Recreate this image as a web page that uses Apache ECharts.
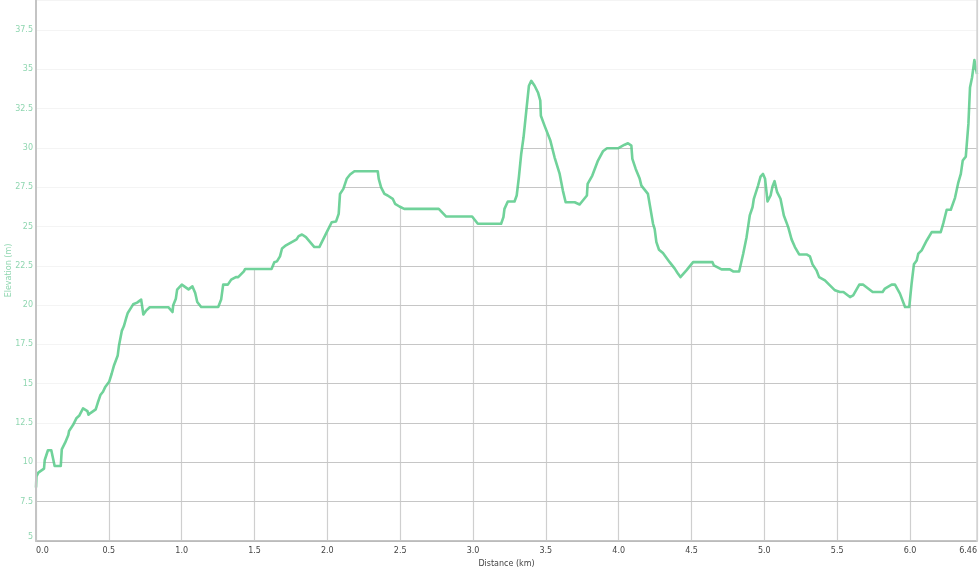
<!DOCTYPE html>
<html>
<head>
<meta charset="utf-8">
<script src="https://cdn.jsdelivr.net/npm/echarts@6/dist/echarts.min.js"></script>
<style>
html,body{margin:0;padding:0;background:#fff;}
#chart{width:980px;height:570px;}
</style>
</head>
<body>
<div id="chart"></div>
<script>
const distanceKm = [
  0.000,0.003,0.016,0.055,0.060,0.082,0.105,0.128,0.170,0.177,0.200,0.222,0.227,0.254,0.277,0.296,
  0.323,0.353,0.360,0.376,0.410,0.424,0.442,0.460,0.474,0.502,0.520,0.536,0.561,0.570,0.589,0.603,
  0.620,0.630,0.653,0.667,0.694,0.722,0.737,0.754,0.781,0.910,0.937,0.942,0.960,0.969,1.001,1.047,
  1.060,1.074,1.093,1.107,1.134,1.251,1.271,1.285,1.317,1.340,1.372,1.388,1.427,1.436,1.617,1.636,
  1.654,1.675,1.689,1.716,1.768,1.789,1.803,1.826,1.853,1.911,1.945,1.991,2.030,2.060,2.078,2.087,
  2.110,2.133,2.156,2.186,2.346,2.353,2.369,2.392,2.414,2.449,2.465,2.495,2.528,2.765,2.816,2.994,
  3.033,3.193,3.209,3.216,3.239,3.285,3.300,3.315,3.331,3.347,3.366,3.384,3.400,3.423,3.446,3.462,
  3.466,3.491,3.531,3.560,3.595,3.617,3.636,3.698,3.732,3.782,3.787,3.819,3.858,3.892,3.920,3.995,
  4.041,4.064,4.087,4.094,4.117,4.144,4.156,4.201,4.236,4.247,4.259,4.277,4.304,4.350,4.385,4.403,
  4.424,4.465,4.511,4.644,4.653,4.706,4.763,4.786,4.827,4.855,4.878,4.900,4.919,4.928,4.957,4.974,
  4.991,5.005,5.022,5.043,5.056,5.070,5.088,5.111,5.134,5.164,5.187,5.210,5.239,5.290,5.313,5.331,
  5.358,5.376,5.416,5.445,5.485,5.519,5.543,5.588,5.610,5.652,5.679,5.744,5.812,5.828,5.874,5.897,
  5.931,5.966,5.995,6.011,6.027,6.046,6.057,6.080,6.115,6.149,6.211,6.229,6.252,6.280,6.309,6.332,
  6.349,6.362,6.383,6.401,6.412,6.426,6.442,6.460
];
const elevationM = [
  8.4,9.1,9.35,9.6,10.15,10.77,10.77,9.77,9.77,10.83,11.25,11.74,12.0,12.37,12.8,12.96,
  13.43,13.26,13.03,13.15,13.37,13.79,14.28,14.49,14.77,15.12,15.65,16.18,16.8,17.45,18.36,18.65,
  19.2,19.5,19.84,20.05,20.16,20.35,19.4,19.63,19.86,19.86,19.56,19.99,20.41,20.98,21.3,21.0,
  21.0,21.19,20.77,20.2,19.88,19.88,20.35,21.3,21.3,21.62,21.78,21.78,22.14,22.3,22.3,22.72,
  22.78,23.1,23.6,23.8,24.07,24.18,24.39,24.49,24.32,23.69,23.69,24.54,25.27,25.32,25.8,27.07,
  27.39,28.03,28.3,28.51,28.51,28.03,27.49,27.07,26.97,26.76,26.44,26.27,26.12,26.12,25.63,25.63,
  25.17,25.17,25.59,26.12,26.59,26.59,26.97,28.13,29.61,30.67,32.36,33.95,34.26,33.95,33.52,33.0,
  32.04,31.41,30.46,29.4,28.34,27.28,26.54,26.54,26.4,26.97,27.71,28.24,29.19,29.78,29.97,29.97,
  30.2,30.29,30.14,29.3,28.66,28.05,27.6,27.07,25.17,24.85,24.0,23.52,23.31,22.73,22.32,22.06,
  21.78,22.21,22.73,22.73,22.53,22.27,22.27,22.14,22.14,23.27,24.32,25.7,26.22,26.76,27.6,28.17,
  28.34,28.03,26.59,26.97,27.54,27.88,27.18,26.76,25.7,24.96,24.18,23.69,23.22,23.22,23.1,22.59,
  22.21,21.78,21.57,21.3,20.94,20.83,20.83,20.51,20.62,21.3,21.3,20.83,20.83,21.05,21.3,21.3,
  20.73,19.88,19.88,21.36,22.59,22.84,23.27,23.48,24.11,24.64,24.64,25.21,26.06,26.06,26.82,27.81,
  28.34,29.19,29.44,31.52,33.84,34.47,35.58,34.7
];
const xMin = 0, xMax = 6.46, xStep = 0.5;
const yMin = 5, yMax = 39.4, yStep = 2.5;
const xAxisTitle = 'Distance (km)';
const yAxisTitle = 'Elevation (m)';

const points = distanceKm.map((d, i) => [d, elevationM[i]]);
const font = 'DejaVu Sans, Verdana, sans-serif';

const chart = echarts.init(document.getElementById('chart'), null, {renderer: 'canvas'});
chart.setOption({
  animation: false,
  backgroundColor: '#ffffff',
  grid: {left: 36, right: 3, top: 0, bottom: 29, containLabel: false, outerBoundsMode: 'none'},
  xAxis: {
    type: 'value', min: xMin, max: xMax, interval: xStep,
    name: xAxisTitle, nameLocation: 'middle', nameGap: 18,
    nameTextStyle: {color: '#444', fontSize: 8, fontFamily: font},
    axisLine: {show: true, lineStyle: {color: '#c4c4c4', width: 2}},
    axisTick: {show: false},
    axisLabel: {
      color: '#444', fontSize: 8, fontFamily: font, margin: 6,
      alignMinLabel: 'left', alignMaxLabel: 'right',
      formatter: v => (Math.abs(v - xMax) < 1e-9 ? String(xMax) : v.toFixed(1))
    },
    splitLine: {show: true, lineStyle: {color: '#cfcfcf', width: 1.2}}
  },
  yAxis: [
    {
      type: 'value', min: yMin, max: yMax, interval: yStep,
      axisLine: {show: false}, axisTick: {show: false}, axisLabel: {show: false},
      splitLine: {show: true, lineStyle: {color: '#cfcfcf', width: 1.2}}
    },
    {
      type: 'value', min: yMin, max: yMax, interval: yStep, position: 'left', z: 5,
      name: yAxisTitle, nameLocation: 'middle', nameGap: 23, nameMoveOverlap: false,
      nameTextStyle: {color: '#8fd6b0', fontSize: 8, fontFamily: font},
      axisLine: {show: true, lineStyle: {color: '#c4c4c4', width: 2}},
      axisTick: {show: false},
      axisLabel: {
        color: '#8fd6b0', fontSize: 8, fontFamily: font, margin: 3,
        showMaxLabel: false, verticalAlignMinLabel: 'bottom'
      },
      splitLine: {show: true, lineStyle: {color: 'rgba(0,0,0,0.045)', width: 1}}
    },
    {
      type: 'value', min: yMin, max: yMax, interval: yStep, position: 'right', z: 5,
      axisLine: {show: true, lineStyle: {color: '#d4d4d4', width: 1.5}},
      axisTick: {show: false}, axisLabel: {show: false}, splitLine: {show: false}
    }
  ],
  series: [{
    type: 'line',
    yAxisIndex: 0,
    data: points,
    showSymbol: false,
    symbol: 'none',
    smooth: false,
    z: 2,
    lineStyle: {color: '#70d29a', width: 2.6, join: 'round'},
    areaStyle: {color: '#ffffff', opacity: 1, origin: 'end'}
  }]
});
</script>
</body>
</html>
